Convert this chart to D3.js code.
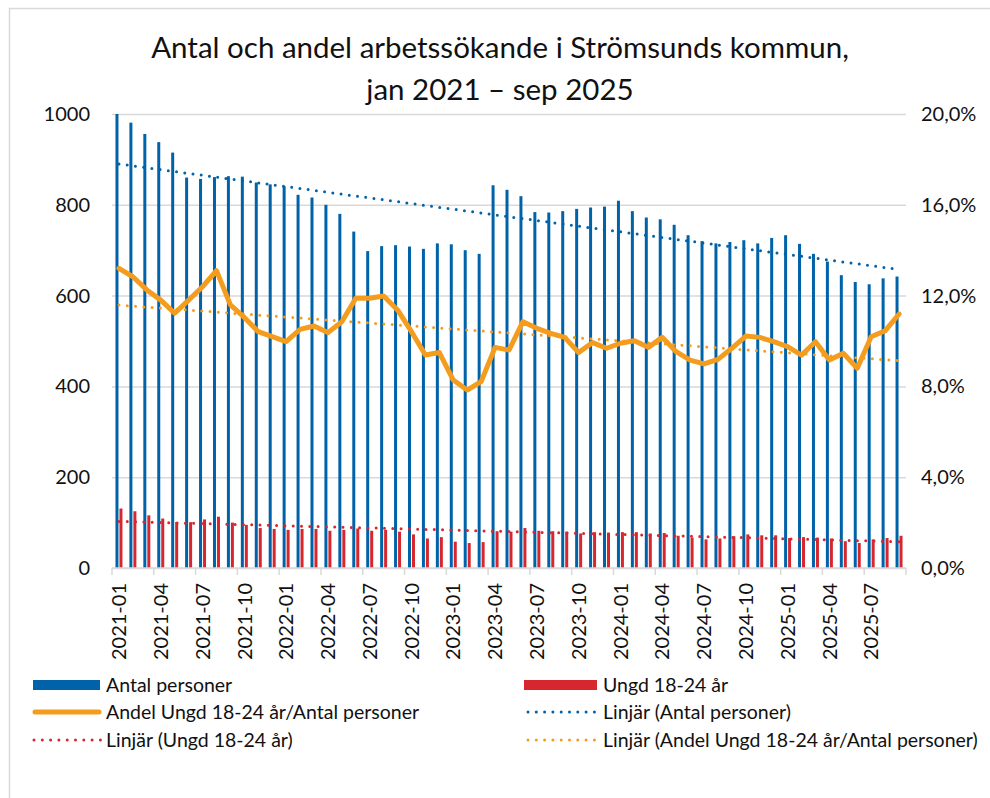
<!DOCTYPE html>
<html>
<head>
<meta charset="utf-8">
<script src="https://d3js.org/d3.v7.min.js"></script>
<style>
  body { margin: 0; background: #fff; }
  svg text { font-family: Lato, "Open Sans", sans-serif; fill: #111; }
</style>
</head>
<body>
<script>
// month categories, jan 2021 - sep 2025
var months = [
  "2021-01","2021-02","2021-03","2021-04","2021-05","2021-06","2021-07","2021-08","2021-09","2021-10","2021-11","2021-12",
  "2022-01","2022-02","2022-03","2022-04","2022-05","2022-06","2022-07","2022-08","2022-09","2022-10","2022-11","2022-12",
  "2023-01","2023-02","2023-03","2023-04","2023-05","2023-06","2023-07","2023-08","2023-09","2023-10","2023-11","2023-12",
  "2024-01","2024-02","2024-03","2024-04","2024-05","2024-06","2024-07","2024-08","2024-09","2024-10","2024-11","2024-12",
  "2025-01","2025-02","2025-03","2025-04","2025-05","2025-06","2025-07","2025-08","2025-09"
];

// Antal personer
var antal = [1000,981,956,938,915,860,857,861,863,862, 849,845,841,822,816,800,780,741,698,709,
             711,708,703,715,713,700,692,843,833,819, 784,783,786,791,794,796,809,786,772,768,
             756,733,720,715,718,722,715,727,733,714, 692,675,645,630,625,638,642];

// Ungd 18-24 år
var ungd = [131,125,116,109,101,101,107,113,100,95, 88,86,84,86,86,82,84,87,82,84,
            80,74,65,68,58,55,57,81,80,88, 82,81,80,76,79,78,79,79,76,77,
            71,67,63,65,70,74,72,72,66,68, 67,65,59,55,63,66,71];

// Andel Ungd 18-24 år/Antal personer (%)
var andel = [13.2,12.83,12.25,11.8,11.22,11.8,12.39,13.1,11.59,11.04,
             10.41,10.19,9.97,10.51,10.66,10.37,10.85,11.88,11.88,11.98,
             11.37,10.41,9.38,9.49,8.28,7.84,8.21,9.72,9.6,10.85,
             10.56,10.34,10.16,9.49,9.93,9.68,9.9,10.01,9.72,10.16,
             9.53,9.16,8.99,9.19,9.68,10.22,10.16,9.97,9.75,9.38,
             9.97,9.16,9.46,8.8,10.19,10.45,11.19];

var leftTicks = [0,200,400,600,800,1000];
var rightTicks = [0,4,8,12,16,20];

var blue = "#0062a8", red = "#d6272f", orange = "#f49c1e";

var svg = d3.select("body").append("svg").attr("width",990).attr("height",798);

// outer chart border
svg.append("rect").attr("x",9.5).attr("y",8.5).attr("width",1000).attr("height",800)
  .style("fill","none").style("stroke","#d9d9d9").style("stroke-width",1.5);

var x = d3.scaleBand().domain(months).range([112,906]);
var xs = d3.scaleBand().domain(["antal","ungd"]).range([0,x.bandwidth()]).paddingInner(0.25).paddingOuter(0.87);
var yL = d3.scaleLinear().domain([0,1000]).range([568,114]);
var yR = d3.scaleLinear().domain([0,20]).range([568,114]);

// gridlines
svg.append("g").attr("transform","translate(112,0)")
  .call(d3.axisLeft(yL).tickValues(leftTicks).tickSize(-794).tickFormat(""))
  .call(function(g){ g.select(".domain").remove(); g.selectAll("line").style("stroke","#d9d9d9").style("stroke-width",1.5); });

// left labels
svg.append("g").attr("transform","translate(112,0)")
  .call(d3.axisLeft(yL).tickValues(leftTicks).tickSize(0).tickPadding(22).tickFormat(d3.format("d")))
  .call(function(g){ g.select(".domain").remove(); })
  .selectAll("text").style("font-size","20px").style("font-family","Lato, sans-serif").style("fill","#111");

// right labels
svg.append("g").attr("transform","translate(906,0)")
  .call(d3.axisRight(yR).tickValues(rightTicks).tickSize(0).tickPadding(15)
    .tickFormat(function(d){ return d.toFixed(1).replace(".",",") + "%"; }))
  .call(function(g){ g.select(".domain").remove(); })
  .selectAll("text").style("font-size","20px").style("font-family","Lato, sans-serif").style("fill","#111");

// bars
svg.append("g").selectAll("rect").data(antal).enter().append("rect")
  .attr("x", function(d,i){ return x(months[i]) + xs("antal"); })
  .attr("y", function(d){ return yL(d); })
  .attr("width", xs.bandwidth())
  .attr("height", function(d){ return yL(0) - yL(d); })
  .style("fill", blue);

svg.append("g").selectAll("rect").data(ungd).enter().append("rect")
  .attr("x", function(d,i){ return x(months[i]) + xs("ungd"); })
  .attr("y", function(d){ return yL(d); })
  .attr("width", xs.bandwidth())
  .attr("height", function(d){ return yL(0) - yL(d); })
  .style("fill", red);

// x axis line and tick marks every 3rd month boundary
svg.append("line").attr("x1",112).attr("x2",906).attr("y1",568).attr("y2",568)
  .style("stroke","#d9d9d9").style("stroke-width",1.5);
var tickPos = months.filter(function(d,i){ return i % 3 == 0; }).map(function(d){ return x(d); });
tickPos.push(x.range()[1]);
svg.append("g").selectAll("line").data(tickPos).enter().append("line")
  .attr("x1", function(d){ return d; }).attr("x2", function(d){ return d; })
  .attr("y1",568).attr("y2",575)
  .style("stroke","#d9d9d9").style("stroke-width",1.5);

svg.append("g").selectAll("text").data(months.filter(function(d,i){ return i % 3 == 0; })).enter().append("text")
  .attr("transform", function(d){ return "translate(" + (x(d) + x.bandwidth()/2) + ",583) rotate(-90)"; })
  .attr("text-anchor","end").attr("dy","0.36em")
  .style("font-size","20px")
  .text(function(d){ return d; });

var cx = function(i){ return x(months[i]) + x.bandwidth()/2; };

// andel line
svg.append("path").datum(andel)
  .attr("d", d3.line().x(function(d,i){ return cx(i); }).y(function(d){ return yR(d); }))
  .style("fill","none").style("stroke",orange).style("stroke-width",5)
  .style("stroke-linejoin","round").style("stroke-linecap","round");

// linear trendlines (least squares)
function trend(vals){
  var n = vals.length, mx = (n-1)/2, my = d3.mean(vals), sxy = 0, sxx = 0;
  vals.forEach(function(v,i){ sxy += (i-mx)*(v-my); sxx += (i-mx)*(i-mx); });
  var b = sxy/sxx, a = my - b*mx;
  return [[0, a], [n-1, a + b*(n-1)]];
}
function drawTrend(vals, scale, color){
  svg.append("path").datum(trend(vals))
    .attr("d", d3.line().x(function(d){ return cx(d[0]); }).y(function(d){ return scale(d[1]); }))
    .style("fill","none").style("stroke",color).style("stroke-width",3)
    .style("stroke-dasharray","0 8.3").style("stroke-linecap","round");
}
drawTrend(antal, yL, blue);
drawTrend(ungd, yL, red);
drawTrend(andel, yR, orange);

// title
var title = svg.append("text").attr("text-anchor","middle").style("font-size","29.5px");
title.append("tspan").attr("x",500).attr("y",58).text("Antal och andel arbetssökande i Strömsunds kommun,");
title.append("tspan").attr("x",500).attr("y",100).text("jan 2021 – sep 2025");

// legend
var legend = [
  {label:"Antal personer", type:"rect", color:blue, x:33, y:685},
  {label:"Ungd 18-24 år", type:"rect", color:red, x:524, y:685},
  {label:"Andel Ungd 18-24 år/Antal personer", type:"line", color:orange, x:33, y:712},
  {label:"Linjär (Antal personer)", type:"dot", color:blue, x:524, y:712},
  {label:"Linjär (Ungd 18-24 år)", type:"dot", color:red, x:33, y:740},
  {label:"Linjär (Andel Ungd 18-24 år/Antal personer)", type:"dot", color:orange, x:524, y:740}
];
legend.forEach(function(l){
  var g = svg.append("g").attr("transform","translate(" + l.x + "," + l.y + ")");
  if (l.type == "rect") {
    g.append("rect").attr("x",0).attr("y",-5).attr("width",l.x < 100 ? 67 : 73).attr("height",10).style("fill",l.color);
  } else if (l.type == "line") {
    g.append("line").attr("x1",2).attr("x2",66).attr("y1",0).attr("y2",0)
      .style("stroke",l.color).style("stroke-width",5).style("stroke-linecap","round");
  } else {
    g.append("line").attr("x1",l.x < 100 ? 1 : 4).attr("x2",l.x < 100 ? 68 : 73).attr("y1",0).attr("y2",0)
      .style("stroke",l.color).style("stroke-width",3).style("stroke-dasharray","0 8.3").style("stroke-linecap","round");
  }
  g.append("text").attr("x", l.x < 100 ? 73 : 79).attr("y",7).style("font-size","19.5px").text(l.label);
});
</script>
</body>
</html>
